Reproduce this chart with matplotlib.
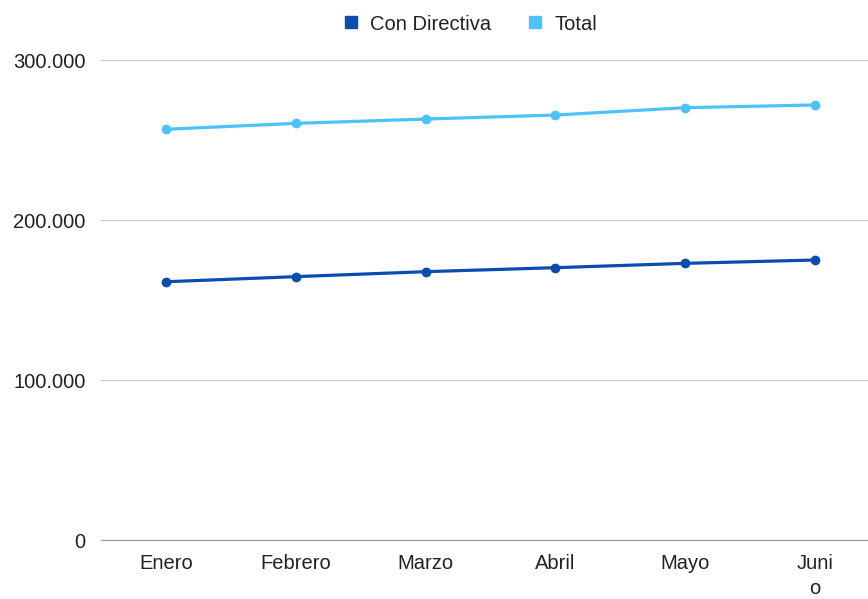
import matplotlib
matplotlib.use("Agg")
import matplotlib.pyplot as plt
from matplotlib.lines import Line2D
from matplotlib.ticker import FuncFormatter

plt.rcParams["font.family"] = ["Liberation Sans", "DejaVu Sans"]

months = ["Enero", "Febrero", "Marzo", "Abril", "Mayo", "Juni\no"]
con_directiva = [161400, 164600, 167700, 170200, 172900, 175000]
total = [256700, 260400, 263100, 265600, 270200, 271900]

DARK = "#0a4cb0"
LIGHT = "#4bc3fa"

fig = plt.figure(figsize=(8.68, 5.99), dpi=100)
ax = fig.add_axes([101 / 868, 1 - 540 / 599, 779 / 868, 480 / 599])

x = list(range(len(months)))
ax.plot(x, con_directiva, color=DARK, lw=2.3, marker="o", ms=6, zorder=3)
ax.plot(x, total, color=LIGHT, lw=2.3, marker="o", ms=6, zorder=3)

ax.set_xlim(-0.5, 5.5)
ax.set_ylim(0, 300000)
ax.set_yticks([0, 100000, 200000, 300000])
ax.yaxis.set_major_formatter(FuncFormatter(lambda v, p: f"{int(v):,}".replace(",", ".")))
ax.set_xticks(x)
ax.set_xticklabels(months, linespacing=1.4, va="top")

ax.grid(axis="y", color="#cccccc", lw=0.9)
ax.set_axisbelow(True)
for s in ["top", "right", "left"]:
    ax.spines[s].set_visible(False)
ax.spines["bottom"].set_color("#999999")
ax.tick_params(axis="both", length=0, labelsize=14.5, colors="#222222")
ax.tick_params(axis="y", pad=11)
ax.tick_params(axis="x", pad=10)

handles = [Line2D([], [], color=DARK, marker="s", ls="", ms=8),
           Line2D([], [], color=LIGHT, marker="s", ls="", ms=8)]
fig.legend(handles, ["Con Directiva", "Total"], loc="center", bbox_to_anchor=(469 / 868, 1 - 24 / 599),
           ncol=2, frameon=False, fontsize=14.5, handletextpad=0.45, columnspacing=1.7,
           handlelength=1.0, labelcolor="#222222")

fig.savefig("out.png", dpi=100)
